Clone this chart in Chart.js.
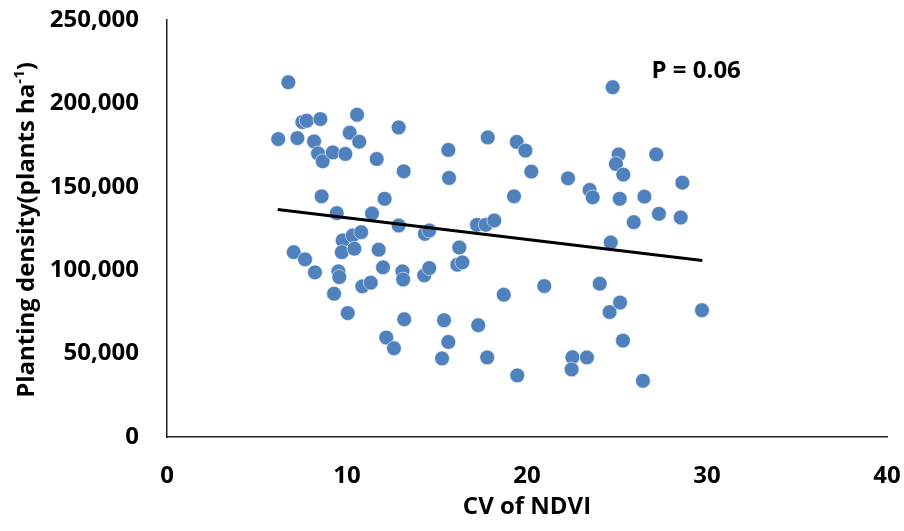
<!DOCTYPE html>
<html>
<head>
<meta charset="utf-8">
<script src="https://cdn.jsdelivr.net/npm/chart.js@4/dist/chart.umd.min.js"></script>
<style>
  html, body { margin: 0; padding: 0; background: #fff; }
  #wrap { width: 904px; height: 531px; }
</style>
</head>
<body>
<div id="wrap"><canvas id="chart-cv" width="904" height="531"></canvas></div>
<script>
// CV of NDVI (%) per field
const cvNdvi = [
  6.18, 6.74, 7.24, 7.52, 7.76, 8.52, 8.17, 8.39, 8.65, 8.59,
  9.21, 9.91, 10.15, 10.56, 10.68, 9.43, 11.65, 11.39, 12.09, 12.87,
  13.15, 12.87, 9.76, 10.32, 10.79, 9.71, 10.41, 11.76, 7.04, 7.67,
  8.22, 9.52, 9.57, 9.28, 10.04, 10.85, 11.32, 12.0, 13.08, 13.12,
  13.18, 12.18, 12.61, 14.33, 14.57, 14.29, 14.57, 15.63, 15.67, 16.24,
  16.13, 16.41, 15.39, 15.63, 15.28, 17.22, 17.71, 18.18, 17.82, 17.29,
  17.79, 18.71, 19.28, 19.43, 19.91, 20.24, 19.46, 20.96, 22.28, 22.52,
  22.48, 23.33, 23.48, 23.65, 24.04, 24.65, 24.59, 24.76, 25.09, 24.94,
  25.35, 25.15, 25.17, 25.33, 25.93, 26.44, 26.52, 27.18, 27.33, 28.54,
  28.63, 29.72
];

// planting density (plants/ha), same order as cvNdvi
const density = [
  178600, 212700, 179200, 188800, 189600, 190600, 177200, 170000, 165300, 144300,
  170600, 169700, 182400, 193200, 177000, 134200, 166700, 134000, 142800, 185600,
  159300, 126800, 117800, 120800, 122800, 110800, 112900, 112300, 110800, 106500,
  98700, 99300, 95900, 85900, 74300, 90300, 92500, 101700, 99300, 94400,
  70600, 59600, 53200, 121800, 123800, 96900, 101300, 172100, 155300, 113600,
  103300, 104700, 70000, 57000, 47100, 127200, 127200, 129800, 179600, 67000,
  47700, 85300, 144300, 176900, 171700, 159100, 36900, 90500, 155100, 47800,
  40500, 47700, 148100, 143700, 91900, 116600, 74900, 209700, 169400, 163700,
  157300, 142800, 80600, 57800, 128800, 33700, 144100, 169400, 133800, 131600,
  152500, 76000
];

// fitted trend line ends
const trendX = [6.15, 29.74];
const trendY = [136400, 105800];

const xTicks = [0, 10, 20, 30, 40];
const yTicks = [0, 50000, 100000, 150000, 200000, 250000];

const pLabel = 'P = 0.06';

const FONT = "'Open Sans', 'Liberation Sans', sans-serif";
const BLUE = '#4F81BD';

const points = cvNdvi.map((x, i) => ({ x, y: density[i] }));
const trend = trendX.map((x, i) => ({ x, y: trendY[i] }));

// y title with a raised "-1" and the P value label
const extraText = {
  id: 'extraText',
  afterDraw(chart) {
    const { ctx, scales } = chart;
    ctx.save();
    ctx.fillStyle = '#000';

    // P label, placed in data space
    ctx.font = `bold 24px ${FONT}`;
    ctx.textAlign = 'center';
    ctx.textBaseline = 'middle';
    ctx.fillText(pLabel, scales.x.getPixelForValue(29.4), scales.y.getPixelForValue(219500));

    // rotated y axis title
    const main = 'Planting density(plants ha';
    const sup = '-1';
    const tail = ')';
    ctx.font = `bold 24px ${FONT}`;
    const wMain = ctx.measureText(main).width;
    const wTail = ctx.measureText(tail).width;
    ctx.font = `bold 15px ${FONT}`;
    const wSup = ctx.measureText(sup).width;
    const total = wMain + wSup + wTail;

    ctx.translate(27, 230);
    ctx.rotate(-Math.PI / 2);
    ctx.textAlign = 'left';
    ctx.textBaseline = 'middle';
    let x = -total / 2;
    ctx.font = `bold 24px ${FONT}`;
    ctx.fillText(main, x, 0);
    x += wMain;
    ctx.font = `bold 15px ${FONT}`;
    ctx.fillText(sup, x, -7);
    x += wSup;
    ctx.font = `bold 24px ${FONT}`;
    ctx.fillText(tail, x, 0);
    ctx.restore();
  }
};

new Chart(document.getElementById('chart-cv'), {
  type: 'scatter',
  data: {
    datasets: [
      {
        type: 'line',
        data: trend,
        borderColor: '#000',
        borderWidth: 3,
        pointRadius: 0,
        fill: false,
      },
      {
        data: points,
        backgroundColor: BLUE,
        borderColor: 'rgba(255,255,255,0.7)',
        borderWidth: 0.8,
        pointRadius: 7.4,
      }
    ]
  },
  options: {
    responsive: false,
    animation: false,
    layout: { padding: { left: 0, top: 20, right: 17, bottom: 9 } },
    plugins: {
      legend: { display: false },
      tooltip: { enabled: false },
    },
    scales: {
      x: {
        type: 'linear',
        min: 0,
        max: 40,
        afterBuildTicks: s => { s.ticks = xTicks.map(v => ({ value: v })); },
        grid: { display: false, drawTicks: false },
        border: { display: true, color: '#222', width: 1.5 },
        ticks: {
          padding: 25,
          color: '#000',
          font: { family: FONT, size: 24, weight: 'bold' },
        },
        title: {
          display: true,
          text: 'CV of NDVI',
          color: '#000',
          padding: 0,
          font: { family: FONT, size: 24, weight: 'bold' },
        },
        // fixed height; end labels may spill into the layout padding
        afterFit: s => { s.height = 85; s.paddingLeft = 0; s.paddingRight = 0; },
      },
      y: {
        type: 'linear',
        min: 0,
        max: 250000,
        afterBuildTicks: s => { s.ticks = yTicks.map(v => ({ value: v })); },
        grid: { display: false, drawTicks: false },
        border: { display: true, color: '#222', width: 1.5 },
        ticks: {
          padding: 28,
          color: '#000',
          font: { family: FONT, size: 24, weight: 'bold' },
          callback: v => v.toLocaleString('en-US'),
        },
        afterFit: s => { s.width = 167; s.paddingTop = 0; s.paddingBottom = 0; },
      }
    }
  },
  plugins: [extraText]
});
</script>
</body>
</html>
